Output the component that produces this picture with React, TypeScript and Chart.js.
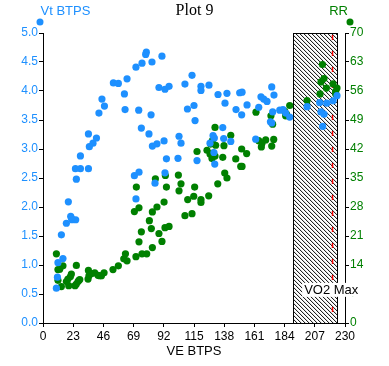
import React, { useEffect, useRef } from "react";
import { Chart, registerables } from "chart.js";

Chart.register(...registerables);

// ---- Data ----
const TITLE = "Plot 9";
const X_TITLE = "VE BTPS";
const Y_TITLE = "Vt BTPS";
const Y1_TITLE = "RR";
const VO2_LABEL = "VO2 Max";

const xTicks = [0, 23, 46, 69, 92, 115, 138, 161, 184, 207, 230];
const yTicks = [0, 0.5, 1, 1.5, 2, 2.5, 3, 3.5, 4, 4.5, 5];
const y1Ticks = [0, 7, 14, 21, 28, 35, 42, 49, 56, 63, 70];

// VO2 max region (VE) and marker line
const vo2Region = [190.5, 224];
const vo2Line = 220.5;
const vo2LabelRR = 8;

// Vt BTPS series (blue)
const vtVE = [
  78.7, 78.2, 90.6, 75.4, 83.0, 70.8, 53.6, 57.4, 64.0, 108.1, 88.3, 92.9, 96.0, 62.0,
  44.9, 46.8, 42.6, 62.5, 72.9, 82.3, 110.0, 74.9, 80.7, 34.6, 40.7, 38.1, 35.3, 83.3,
  86.8, 92.2, 103.6, 105.1, 28.5, 94.0, 102.8, 24.7, 28.5, 34.6, 73.1, 69.6, 92.9, 25.4,
  85.3, 70.8, 19.3, 21.1, 22.1, 24.9, 17.8, 21.6, 14.0, 15.2, 11.4, 11.0, 10.2,
  113.5, 120.3, 120.3, 126.4, 133.3, 140.1, 149.8, 151.6, 174.2, 175.9, 166.0, 168.1,
  170.6, 115.0, 138.6, 155.4, 147.0, 164.3, 115.8, 151.3, 174.9, 173.2, 174.2, 180.3,
  182.8, 184.8, 187.9, 136.9, 129.5, 130.5, 137.6, 143.0, 127.2, 162.0, 117.3, 130.2,
  130.8, 201.1, 210.7, 211.7, 214.0, 213.0, 216.1, 220.9, 223.9,
];
const vt = [
  4.67, 4.63, 4.60, 4.48, 4.50, 4.41, 4.14, 4.13, 4.21, 4.12, 4.06, 4.03, 4.08, 3.95,
  3.86, 3.74, 3.62, 3.68, 3.67, 3.59, 3.69, 3.36, 3.26, 3.26, 3.19, 3.10, 3.04, 3.05,
  3.09, 3.14, 3.22, 3.10, 2.88, 2.83, 2.84, 2.66, 2.66, 2.66, 2.60, 2.54, 2.59, 2.48,
  2.41, 2.14, 2.09, 1.84, 1.78, 1.78, 1.72, 1.81, 1.52, 1.11, 1.04, 0.79, 0.60,
  4.27, 4.08, 4.01, 4.10, 3.94, 3.96, 3.97, 3.98, 4.07, 3.93, 3.90, 3.86,
  3.82, 3.75, 3.79, 3.76, 3.68, 3.72, 3.49, 3.59, 3.64, 3.47, 3.45, 3.67,
  3.68, 3.62, 3.55, 3.37, 3.23, 3.19, 3.18, 3.13, 3.10, 3.17, 2.80, 2.94,
  2.74, 3.73, 3.80, 3.64, 3.60, 3.39, 3.79, 3.83, 3.92,
];

// RR series (green)
const rrVE = [
  10.2, 11.4, 12.7, 11.4, 14.0, 15.2, 17.8, 19.0, 19.6, 20.9, 21.6, 24.4, 25.4, 25.4,
  26.7, 27.4, 28.0, 34.3, 34.6, 35.0, 36.9, 39.4, 41.9, 43.2, 44.5, 46.5, 53.3, 57.4,
  61.5, 62.8, 64.0, 70.8, 75.4, 79.0, 83.3, 90.6, 73.1, 74.9, 88.3, 82.5, 81.0, 92.9,
  96.0, 69.6, 73.1, 83.3, 86.8, 92.2, 71.1, 94.0, 105.1, 103.6, 110.2, 108.1, 85.6,
  93.2, 103.1,
  162.2, 173.6, 174.9, 131.0, 143.0, 129.0, 131.5, 127.7, 129.5, 128.7, 131.0, 137.8,
  124.9, 127.2, 117.3, 136.9, 146.8, 155.1, 151.3, 150.6, 151.6, 164.3, 166.8, 169.6,
  166.3, 174.2, 175.7, 138.4, 140.1, 133.1, 115.5, 114.8, 120.3, 120.3, 126.2, 113.5,
  184.1, 185.4, 184.8, 187.9, 201.1, 211.0, 211.7, 214.0, 212.8, 215.8, 220.9, 223.9,
  222.9, 222.9,
];
const rr = [
  16.7, 12.9, 13.0, 10.3, 8.8, 13.8, 10.0, 10.6, 9.0, 11.2, 11.8, 9.0, 9.4, 13.9,
  10.0, 10.3, 10.5, 10.6, 12.7, 11.4, 11.9, 12.1, 11.5, 11.4, 11.4, 12.1, 12.9, 13.8,
  15.5, 16.7, 15.0, 16.0, 16.7, 16.7, 18.2, 19.7, 19.6, 22.0, 21.6, 22.8, 24.7, 23.0,
  23.3, 26.9, 27.8, 26.8, 28.0, 29.2, 32.8, 32.8, 33.6, 31.9, 29.8, 25.9, 34.8,
  35.6, 35.7,
  50.9, 50.0, 48.0, 47.2, 45.3, 44.0, 42.9, 43.2, 41.0, 39.7, 40.3, 42.8,
  41.7, 40.8, 41.4, 40.0, 39.6, 40.9, 42.0, 37.8, 37.8, 44.0, 43.4, 44.2,
  42.5, 42.7, 44.3, 36.2, 35.0, 33.6, 32.8, 30.6, 29.8, 29.1, 30.7, 26.4,
  51.1, 50.4, 50.0, 52.5, 53.7, 55.3, 58.2, 59.0, 62.4, 56.7, 57.7, 56.7,
  55.9, 55.3,
];

const BLUE = "#1E90FF";
const GREEN = "#008000";
const SANS = "'Liberation Sans', Arial, sans-serif";
const SERIF = "'Liberation Serif', 'Times New Roman', serif";

const decorPlugin = {
  id: "decor",
  beforeDatasetsDraw(chart: any) {
    const { ctx, chartArea, scales } = chart;
    const xs = scales.x;
    const x0 = xs.getPixelForValue(vo2Region[0]);
    const x1 = xs.getPixelForValue(vo2Region[1]);
    const top = chartArea.top;
    const bottom = chartArea.bottom;
    ctx.save();
    ctx.beginPath();
    ctx.rect(x0, top, x1 - x0, bottom - top);
    ctx.clip();
    ctx.fillStyle = "#fff";
    ctx.fillRect(x0, top, x1 - x0, bottom - top);
    ctx.strokeStyle = "#000";
    ctx.lineWidth = 1;
    const h = bottom - top;
    ctx.beginPath();
    for (let k = x0 - h; k < x1 + 4; k += 4) {
      ctx.moveTo(k, top);
      ctx.lineTo(k + h, bottom);
    }
    ctx.stroke();
    // red dashed line
    const lx = xs.getPixelForValue(vo2Line);
    ctx.strokeStyle = "red";
    ctx.lineWidth = 1.5;
    ctx.setLineDash([5, 11]);
    ctx.beginPath();
    ctx.moveTo(lx, top + 2);
    ctx.lineTo(lx, bottom);
    ctx.stroke();
    ctx.restore();
    ctx.save();
    ctx.strokeStyle = "#000";
    ctx.lineWidth = 1;
    ctx.strokeRect(Math.round(x0) + 0.5, top + 0.5, Math.round(x1 - x0), bottom - top);
    ctx.restore();
  },
  afterDraw(chart: any) {
    const { ctx, chartArea, scales, width } = chart;
    ctx.save();
    // VO2 Max label
    const lx = scales.x.getPixelForValue(vo2Region[0]) + 11;
    const ly = scales.y1.getPixelForValue(vo2LabelRR);
    ctx.font = `13px ${SANS}`;
    const tw = ctx.measureText(VO2_LABEL).width;
    ctx.fillStyle = "#fff";
    ctx.fillRect(lx - 2, ly - 7, tw + 3, 14);
    ctx.fillStyle = "#000";
    ctx.textBaseline = "middle";
    ctx.textAlign = "left";
    ctx.fillText(VO2_LABEL, lx, ly + 0.5);

    // Title
    ctx.font = `16px ${SERIF}`;
    ctx.textAlign = "center";
    ctx.fillStyle = "#000";
    ctx.fillText(TITLE, width / 2, 11);

    // Axis titles
    ctx.font = `13px ${SANS}`;
    ctx.textAlign = "left";
    ctx.fillStyle = BLUE;
    ctx.fillText(Y_TITLE, chartArea.left - 2.5, 11);
    ctx.textAlign = "right";
    ctx.fillStyle = GREEN;
    ctx.fillText(Y1_TITLE, chartArea.right + 3, 11);
    ctx.textAlign = "center";
    ctx.fillStyle = "#000";
    ctx.fillText(X_TITLE, (chartArea.left + chartArea.right) / 2, 351);

    // legend markers
    ctx.fillStyle = BLUE;
    ctx.beginPath();
    ctx.arc(chartArea.left - 3, 22, 3.5, 0, Math.PI * 2);
    ctx.fill();
    ctx.fillStyle = GREEN;
    ctx.beginPath();
    ctx.arc(chartArea.right + 5, 22, 3.5, 0, Math.PI * 2);
    ctx.fill();
    ctx.restore();
  },
};

export default function App() {
  const ref = useRef<HTMLCanvasElement | null>(null);
  useEffect(() => {
    if (!ref.current) return;
    const chart = new Chart(ref.current, {
      type: "scatter",
      data: {
        datasets: [
          {
            label: Y_TITLE,
            data: vtVE.map((x, i) => ({ x, y: vt[i] })),
            yAxisID: "y",
            backgroundColor: BLUE,
            borderWidth: 0,
            pointRadius: 3.6,
          },
          {
            label: Y1_TITLE,
            data: rrVE.map((x, i) => ({ x, y: rr[i] })),
            yAxisID: "y1",
            backgroundColor: GREEN,
            borderWidth: 0,
            pointRadius: 3.6,
          },
        ],
      },
      options: {
        responsive: false,
        animation: false,
        layout: { padding: { top: 33, left: 0, right: 0, bottom: 0 } },
        plugins: { legend: { display: false }, tooltip: { enabled: false }, title: { display: false } },
        scales: {
          x: {
            type: "linear",
            min: xTicks[0],
            max: xTicks[xTicks.length - 1],
            afterBuildTicks: (s: any) => { s.ticks = xTicks.map((v) => ({ value: v })); },
            afterFit: (s: any) => { s.height = 43; },
            grid: { drawOnChartArea: false, tickLength: 4, color: "#000" },
            border: { color: "#000", width: 1 },
            ticks: { color: "#000", padding: 2, font: { family: SANS, size: 12 }, maxRotation: 0, autoSkip: false },
          },
          y: {
            type: "linear",
            position: "left",
            min: 0,
            max: 5,
            afterBuildTicks: (s: any) => { s.ticks = yTicks.map((v) => ({ value: v })); },
            afterFit: (s: any) => { s.width = 43; },
            grid: { drawOnChartArea: false, tickLength: 4, color: "#000" },
            border: { color: "#000", width: 1 },
            ticks: { color: BLUE, padding: 1, font: { family: SANS, size: 12 }, callback: (v: any) => Number(v).toFixed(1), autoSkip: false },
          },
          y1: {
            type: "linear",
            position: "right",
            min: 0,
            max: 70,
            afterBuildTicks: (s: any) => { s.ticks = y1Ticks.map((v) => ({ value: v })); },
            afterFit: (s: any) => { s.width = 44; },
            grid: { drawOnChartArea: false, tickLength: 4, color: "#000" },
            border: { color: "#000", width: 1 },
            ticks: { color: GREEN, padding: 1, font: { family: SANS, size: 12 }, autoSkip: false },
          },
        },
      } as any,
      plugins: [decorPlugin],
    });
    return () => chart.destroy();
  }, []);
  return (
    <div style={{ position: "absolute", left: 0, top: 0, width: 389, height: 366, background: "#fff" }}>
      <canvas ref={ref} width={389} height={366} style={{ width: 389, height: 366, display: "block" }} />
    </div>
  );
}
